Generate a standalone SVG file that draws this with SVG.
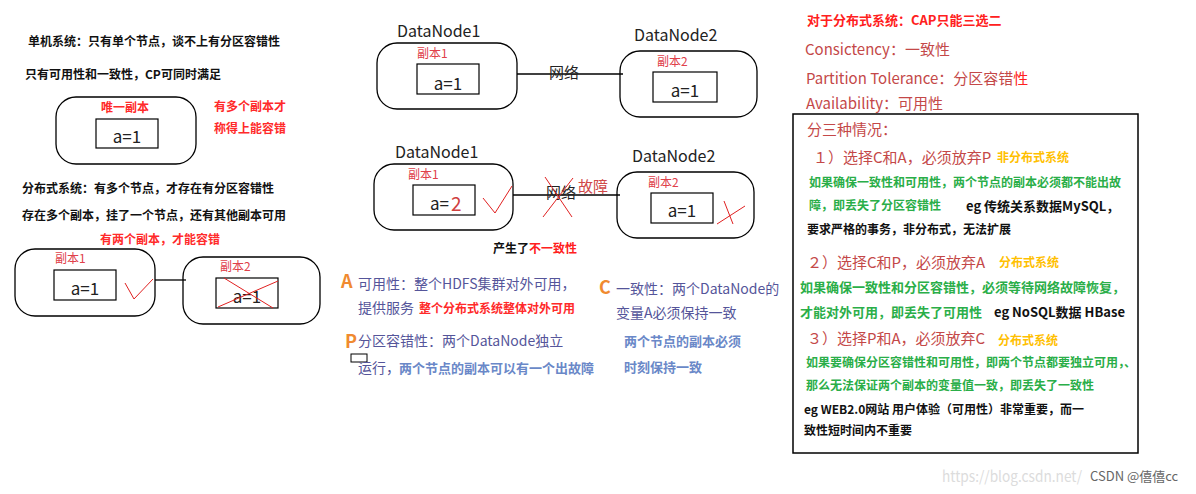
<svg xmlns="http://www.w3.org/2000/svg" width="1196" height="494" viewBox="0 0 1196 494">
<style>
text{font-family:"Noto Sans CJK SC","Noto Sans",sans-serif;}
.bk{font-size:12px;font-weight:bold;fill:#111;}
.rb{font-size:12px;font-weight:bold;fill:#ff2a2a;}
.rep{font-size:12px;fill:#e0404a;}
.val{font-size:17px;fill:#222;}
.dn{font-size:16px;fill:#222;}
.box{fill:none;stroke:#000;stroke-width:1.3;}
.in{fill:none;stroke:#000;stroke-width:1.2;}
.ln{stroke:#000;stroke-width:1.3;fill:none;}
.rx{stroke:#e02020;stroke-width:1;fill:none;}
.pu{font-size:14px;fill:#55559a;}
.bl{font-size:13px;font-weight:bold;fill:#6a88c8;}
.or{font-size:18px;font-weight:bold;fill:#f08a30;}
.br{font-size:15px;fill:#c44848;}
.gr{font-size:12px;font-weight:bold;fill:#2aae48;}
.gr13{font-size:13px;font-weight:bold;fill:#2aae48;}
.ye{font-size:12px;font-weight:bold;fill:#ffc000;}
.bk13{font-size:13px;font-weight:bold;fill:#111;}
</style>
<rect width="1196" height="494" fill="#fff"/>

<g id="single-text">
<text class="bk" x="28" y="46">单机系统：只有单个节点，谈不上有分区容错性</text>
<text class="bk" x="25" y="79">只有可用性和一致性，CP可同时满足</text>
<text class="rb" x="214" y="111">有多个副本才</text>
<text class="rb" x="214" y="133">称得上能容错</text>
</g>
<g id="single-node">
<rect class="box" x="56" y="97" width="140" height="67" rx="20"/>
<text class="rb" x="101" y="112">唯一副本</text>
<rect class="in" x="96" y="119" width="62" height="29"/>
<text class="val" x="127" y="143" text-anchor="middle">a=1</text>
</g>

<g id="dist-text">
<text class="bk" x="22" y="193">分布式系统：有多个节点，才存在有分区容错性</text>
<text class="bk" x="22" y="220">存在多个副本，挂了一个节点，还有其他副本可用</text>
<text class="rb" x="100" y="244">有两个副本，才能容错</text>
</g>
<g id="left-replica1">
<rect class="box" x="15" y="249" width="140" height="67" rx="20"/>
<text class="rep" x="55" y="263">副本1</text>
<rect class="in" x="54" y="270" width="62" height="30"/>
<text class="val" x="85" y="295" text-anchor="middle">a=1</text>
<polyline class="rx" points="125,283 134,299 153,279"/>
</g>
<g id="left-replica2">
<rect class="box" x="183" y="257" width="137" height="67" rx="20"/>
<text class="rep" x="220" y="271">副本2</text>
<rect class="in" x="216" y="278" width="62" height="30"/>
<text class="val" x="247" y="303" text-anchor="middle">a=1</text>
<line class="rx" x1="218" y1="307" x2="278" y2="281"/>
<line class="rx" x1="224" y1="278" x2="273" y2="308"/>
</g>

<g id="dn1-top">
<text class="dn" x="397" y="37">DataNode1</text>
<rect class="box" x="377" y="43" width="140" height="66" rx="20"/>
<text class="rep" x="417" y="58">副本1</text>
<rect class="in" x="417" y="64" width="62" height="30"/>
<text class="val" x="448" y="90" text-anchor="middle">a=1</text>
</g>
<g id="dn2-top">
<text class="dn" x="634" y="41">DataNode2</text>
<rect class="box" x="620" y="51" width="137" height="66" rx="20"/>
<text class="rep" x="657" y="66">副本2</text>
<rect class="in" x="653" y="72" width="64" height="30"/>
<text class="val" x="685" y="97" text-anchor="middle">a=1</text>
</g>

<g id="dn1-bottom">
<text class="dn" x="395" y="158">DataNode1</text>
<rect class="box" x="374" y="164" width="139" height="66" rx="20"/>
<text class="rep" x="408" y="179">副本1</text>
<rect class="in" x="413" y="185" width="62" height="30"/>
<text class="val" x="430" y="210">a=</text>
<text x="451" y="211" style="font-size:19px;fill:#d04040">2</text>
<polyline class="rx" points="483,198 495,213 512,186"/>
</g>
<g id="dn2-bottom">
<text class="dn" x="632" y="162">DataNode2</text>
<rect class="box" x="617" y="172" width="137" height="66" rx="20"/>
<text class="rep" x="648" y="187">副本2</text>
<rect class="in" x="651" y="193" width="62" height="30"/>
<text class="val" x="682" y="217" text-anchor="middle">a=1</text>
<line class="rx" x1="717" y1="224" x2="745" y2="206"/>
<line class="rx" x1="724" y1="201" x2="733" y2="224"/>
</g>

<g id="connectors">
<line class="ln" x1="155" y1="280" x2="186" y2="280"/>
<line class="ln" x1="517" y1="74" x2="623" y2="74"/>
<text x="549" y="78" style="font-size:15px;fill:#222">网络</text>
<line class="ln" x1="513" y1="195" x2="620" y2="195"/>
<text x="546" y="198" style="font-size:15px;fill:#222">网络</text>
<line class="rx" x1="545" y1="177" x2="572" y2="217"/>
<line class="rx" x1="573" y1="178" x2="543" y2="217"/>
<text x="578" y="192" style="font-size:15px;fill:#d04848">故障</text>
</g>

<g id="inconsistency">
<text class="bk" x="493" y="253">产生了<tspan fill="#ff2020">不一致性</tspan></text>
</g>

<g id="cap-notes">
<text class="or" x="341" y="288">A</text>
<text class="pu" x="358" y="289">可用性：整个HDFS集群对外可用，</text>
<text class="pu" x="358" y="313">提供服务</text>
<text class="rb" x="419" y="313">整个分布式系统整体对外可用</text>
<text class="or" x="599" y="294">C</text>
<text class="pu" x="616" y="294">一致性：两个DataNode的</text>
<text class="pu" x="616" y="318">变量A必须保持一致</text>
<text class="or" x="345" y="348">P</text>
<text class="pu" x="358" y="346">分区容错性：两个DataNode独立</text>
<rect x="351" y="354" width="16" height="8" fill="none" stroke="#000" stroke-width="1"/>
<text class="pu" x="358" y="373">运行，</text>
<text class="bl" x="399" y="373">两个节点的副本可以有一个出故障</text>
<text class="bl" x="624" y="346">两个节点的副本必须</text>
<text class="bl" x="624" y="372">时刻保持一致</text>
</g>

<g id="cap-header">
<text x="807" y="25" style="font-size:13px;font-weight:bold;fill:#ff2020">对于分布式系统：CAP只能三选二</text>
<text class="br" x="805" y="55">Consictency：一致性</text>
<text class="br" x="806" y="84">Partition Tolerance：分区容错<tspan fill="#ff2020">性</tspan></text>
<text class="br" x="806" y="109">Availability：可用性</text>
</g>

<g id="cases">
<rect x="793" y="114" width="345" height="339" fill="none" stroke="#000" stroke-width="1.5"/>
<text class="br" x="807" y="135">分三种情况：</text>
<text class="br" x="813" y="163">１）选择C和A，必须放弃P</text>
<text class="ye" x="997" y="162">非分布式系统</text>
<text class="gr" x="809" y="187">如果确保一致性和可用性，两个节点的副本必须都不能出故</text>
<text class="gr" x="809" y="210">障，即丢失了分区容错性</text>
<text class="bk13" x="966" y="211">eg 传统关系数据MySQL，</text>
<text class="bk" x="807" y="234">要求严格的事务，非分布式，无法扩展</text>
<text class="br" x="807" y="268">２）选择C和P，必须放弃A</text>
<text class="ye" x="999" y="267">分布式系统</text>
<text class="gr13" x="800" y="292">如果确保一致性和分区容错性，必须等待网络故障恢复，</text>
<text class="gr13" x="800" y="317">才能对外可用，即丢失了可用性</text>
<text class="bk13" x="994" y="317">eg NoSQL数据 HBase</text>
<text class="br" x="807" y="344">３）选择P和A，必须放弃C</text>
<text class="ye" x="998" y="345">分布式系统</text>
<text class="gr" x="806" y="367">如果要确保分区容错性和可用性，即两个节点都要独立可用，、</text>
<text class="gr" x="806" y="390">那么无法保证两个副本的变量值一致，即丢失了一致性</text>
<text class="bk" x="804" y="414">eg WEB2.0网站 用户体验（可用性）非常重要，而一</text>
<text class="bk" x="804" y="435">致性短时间内不重要</text>
</g>

<g id="watermark">
<text x="942" y="482" textLength="140" lengthAdjust="spacingAndGlyphs" style="font-size:15px;fill:#dcdcdc">https://blog.csdn.net/</text>
<text x="1090" y="481" style="font-size:13px;fill:#666">CSDN @僖僖cc</text>
</g>
</svg>
